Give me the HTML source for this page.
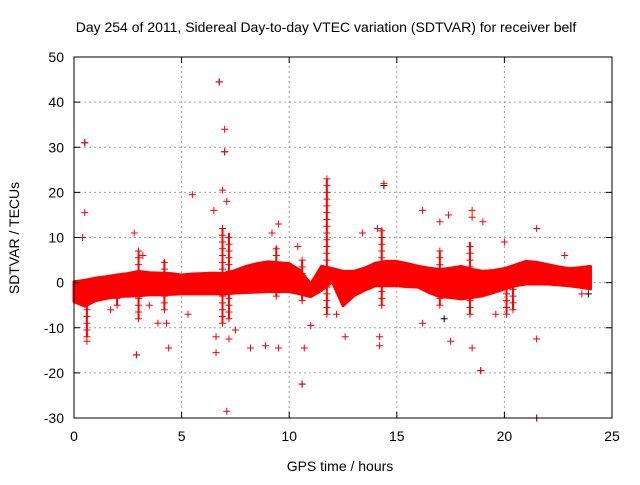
<!DOCTYPE html>
<html><head><meta charset="utf-8"><style>
body{margin:0;background:#fff;font-family:"Liberation Sans",sans-serif}
svg text{font-family:"Liberation Sans",sans-serif;font-size:14px;fill:#000}
</style></head><body>
<svg id="chart" width="640" height="480" viewBox="0 0 640 480" xmlns="http://www.w3.org/2000/svg">
<text x="326" y="32" text-anchor="middle">Day 254 of 2011, Sidereal Day-to-day VTEC variation (SDTVAR) for receiver belf</text>
<text transform="translate(19,238) rotate(-90)" text-anchor="middle">SDTVAR / TECUs</text>
<text x="340" y="471" text-anchor="middle">GPS time / hours</text>
<g id="grid"></g><g id="data"></g><g id="axes"></g>
</svg>
<script>
const xTicks=[0,5,10,15,20,25];
const yTicks=[-30,-20,-10,0,10,20,30,40,50];
const bandTimes=[0,0.5,1,1.5,2,2.5,3,3.5,4,4.5,5,5.5,6,6.5,7,7.5,8,8.5,9,9.5,10,10.5,11,11.5,12,12.5,13,13.5,14,14.5,15,15.5,16,16.5,17,17.5,18,18.5,19,19.5,20,20.5,21,21.5,22,22.5,23,23.5,24];
const bandHigh=[0.2,0.5,1,1.3,1.7,2,2.5,2.2,2.1,2,1.7,1.9,2,2.1,2,2.7,3.6,4.2,4.6,4.4,4.2,2.7,-0.3,3.6,3.1,2.5,2.5,3.2,4.3,4.7,4.7,4.2,3.6,3.2,2.9,3.2,3.6,2.9,2.5,2.7,3.1,3.9,4.7,4.5,4,3.5,3.1,3.3,3.6];
const bandLow=[-4.2,-5.2,-4,-3.5,-3.1,-3,-2.9,-2.7,-2.7,-2.6,-2.5,-2.5,-2.5,-2.5,-2.5,-2.3,-2.2,-2.1,-2,-2,-2,-2.5,-3.1,-1.7,0.2,-5.1,-2.9,-1.7,-0.7,-0.7,-0.7,-0.9,-1,-2.2,-3.1,-3.3,-3.6,-3.3,-2.9,-2.2,-1.4,-0.7,-0.3,-0.3,-0.3,-0.5,-0.7,-1,-1.4];
const spikeTimes=[0.6,3.0,4.2,6.9,7.2,11.75,14.3,17.0,18.4,20.1,20.4,10.6,9.4,2.0];
const spikeTops=[-1,7,5,12,11,23,12,7,9,2,0,5,8,2];
const spikeBottoms=[-12,-8,-6,-9,-8,-7,-5,-5,-7,-7,-6,-4,-3,-5];
const outT=[0.5,0.5,0.4,6.75,7.0,7.0,6.9,7.1,6.5,5.5,9.5,2.8,3.2,2.9,4.4,6.6,6.6,7.1,7.2,7.5,8.2,9.5,10.6,10.7,11,14.4,14.2,14.2,16.2,17.4,17,18.5,18.5,19,18.9,18.5,17.5,21.5,21.5,21.5,1.7,0.6,12.2,13.4,14.1,16.2,20,22.8,3.9,4.3,3.5,8.9,5.3,9.2,10.4,12.6,19.6,23.6];
const outV=[31,15.5,10,44.5,34,29,20.5,18,16,19.5,13,11,6,-16,-14.5,-15.5,-12,-28.5,-12.5,-10.5,-14.5,-14.5,-22.5,-14.5,-9.5,22,-14,-12,16,15,13.5,16,14.5,13.5,-19.5,-14.5,-13,12,-12.5,-30,-6,-13,-7,11,12,-9,9,6,-9,-9,-5,-14,-7,11,8,-12,-7,-2.5];
const blackT=[0.5,6.75,7.0,10.6,14.4,21.5,18.9,2.9,23.9,17.2];
const blackV=[31,44.5,29,-22.5,21.5,-30,-19.5,-16,-2.5,-8];

const X0=74,X1=612,Y0=418,Y1=57;
const sx=t=>X0+(t-0)/25*(X1-X0);
const sy=v=>Y0-(v+30)/80*(Y0-Y1);
const NS="http://www.w3.org/2000/svg";
function mk(tag,attrs,parent){const e=document.createElementNS(NS,tag);for(const k in attrs)e.setAttribute(k,attrs[k]);parent.appendChild(e);return e;}
const grid=document.getElementById('grid'),data=document.getElementById('data'),axes=document.getElementById('axes');

xTicks.forEach(t=>{
  if(t>0&&t<25){const l=mk('line',{x1:sx(t),x2:sx(t),y1:Y0,y2:Y1,stroke:'#a0a0a0','stroke-dasharray':'2,3'},grid);
  
  }
  mk('line',{x1:sx(t),x2:sx(t),y1:Y0,y2:Y0-6,stroke:'#000'},axes);
  mk('line',{x1:sx(t),x2:sx(t),y1:Y1,y2:Y1+6,stroke:'#000'},axes);
  const tx=mk('text',{x:sx(t),y:Y0+23,'text-anchor':'middle'},axes);tx.textContent=t;
  
  
});
yTicks.forEach(v=>{
  if(v>-30&&v<50){const l=mk('line',{x1:X0,x2:X1,y1:sy(v),y2:sy(v),stroke:'#a0a0a0','stroke-dasharray':'2,3'},grid);
  
  }
  mk('line',{x1:X0,x2:X0+6,y1:sy(v),y2:sy(v),stroke:'#000'},axes);
  mk('line',{x1:X1,x2:X1-6,y1:sy(v),y2:sy(v),stroke:'#000'},axes);
  const tx=mk('text',{x:X0-10,y:sy(v)+5,'text-anchor':'end'},axes);tx.textContent=v;
  
  
});
const fr=mk('rect',{x:X0,y:Y1,width:X1-X0,height:Y0-Y1,fill:'none',stroke:'#000'},axes);



let pts=bandTimes.map((t,i)=>sx(t)+','+sy(bandHigh[i]));
for(let i=bandTimes.length-1;i>=0;i--)pts.push(sx(bandTimes[i])+','+sy(bandLow[i]));
const band=mk('polygon',{points:pts.join(' '),fill:'#ff0000',stroke:'#ff0000','stroke-width':3,'stroke-linejoin':'round'},data);



function plus(x,y,c,name){
  const p=mk('path',{d:`M${x-3.5},${y}H${x+3.5}M${x},${y-3.5}V${y+3.5}`,stroke:c,'stroke-width':1,fill:'none'},data);
  
  
}
spikeTimes.forEach((t,i)=>{
  const r=mk('rect',{x:sx(t)-1,y:sy(spikeTops[i]),width:2,height:sy(spikeBottoms[i])-sy(spikeTops[i]),fill:'#ff0000'},data);
  
  
  for(let v=spikeBottoms[i];v<=spikeTops[i];v+=1.5)plus(sx(t),sy(v),'#ff0000','spike-point');
});
blackT.forEach((t,i)=>plus(sx(t),sy(blackV[i]),'#000','black-point'));
outT.forEach((t,i)=>plus(sx(t),sy(outV[i]),'#ff0000','outlier-point'));
</script>
</body></html>
